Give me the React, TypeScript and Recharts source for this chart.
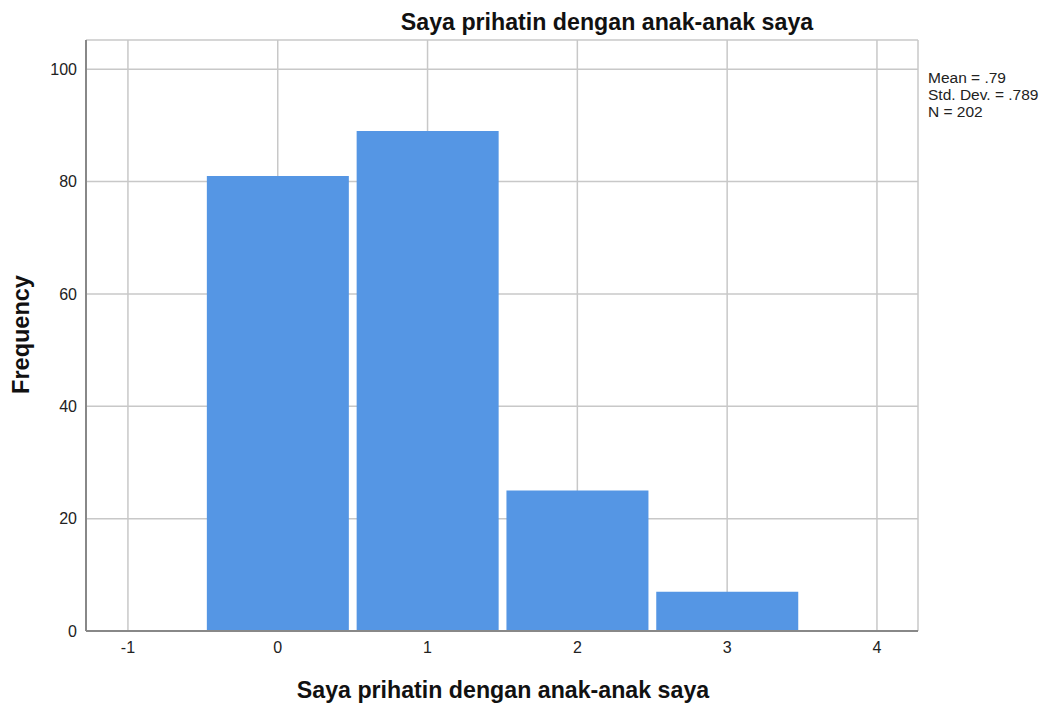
import * as React from "react";
import { BarChart, Bar, XAxis, YAxis, CartesianGrid } from "recharts";

const categories = [0, 1, 2, 3];
const frequencies = [81, 89, 25, 7];
const xTicks = [-1, 0, 1, 2, 3, 4];
const yTicks = [0, 20, 40, 60, 80, 100];
const statsLines = ["Mean = .79", "Std. Dev. = .789", "N = 202"];

const TITLE = "Saya prihatin dengan anak-anak saya";
const FONT = "Arial, 'Liberation Sans', sans-serif";

export default function App() {
  const data = categories.map((c, i) => ({ x: c, value: frequencies[i] }));

  return (
    <div style={{ position: "relative", width: 1035, height: 695, fontFamily: FONT }}>
      {/* title */}
      <div
        style={{
          position: "absolute",
          left: 0,
          width: 1198,
          top: 1,
          textAlign: "center",
          fontSize: 23.2,
          fontWeight: "bold",
          color: "#111",
        }}
      >
        {TITLE}
      </div>

      <BarChart
        width={1035}
        height={695}
        data={data}
        margin={{ top: 32, right: 125, bottom: 42, left: 38 }}
      >
        <CartesianGrid stroke="#c8c8c8" strokeWidth={1.5} horizontal vertical />
        <XAxis
          type="number"
          dataKey="x"
          domain={[-1.28, 4.274]}
          ticks={xTicks}
          allowDataOverflow
          height={30}
          tickLine={false}
          axisLine={{ stroke: "#888", strokeWidth: 2 }}
          tick={{ fill: "#222", fontSize: 16, fontFamily: FONT }}
          tickMargin={5}
        />
        <YAxis
          type="number"
          domain={[0, 105.2]}
          ticks={yTicks}
          allowDataOverflow
          width={40}
          tickLine={false}
          axisLine={{ stroke: "#888", strokeWidth: 2 }}
          tick={{ fill: "#222", fontSize: 16, fontFamily: FONT }}
          tickMargin={3}
        />
        <Bar dataKey="value" fill="#5596e4" barSize={142} isAnimationActive={false} />
      </BarChart>

      {/* stats */}
      <div
        style={{
          position: "absolute",
          left: 920,
          top: 61,
          fontSize: 15.5,
          lineHeight: "17px",
          color: "#222",
        }}
      >
        {statsLines.map((l) => (
          <div key={l}>{l}</div>
        ))}
      </div>

      {/* x label */}
      <div
        style={{
          position: "absolute",
          left: 0,
          width: 990,
          top: 669,
          textAlign: "center",
          fontSize: 23.2,
          fontWeight: "bold",
          color: "#111",
        }}
      >
        {TITLE}
      </div>

      {/* y label */}
      <div
        style={{
          position: "absolute",
          left: 13 - 60,
          width: 120,
          top: 327 - 14,
          textAlign: "center",
          fontSize: 23.5,
          fontWeight: "bold",
          color: "#111",
          transform: "rotate(-90deg)",
        }}
      >
        Frequency
      </div>
    </div>
  );
}
